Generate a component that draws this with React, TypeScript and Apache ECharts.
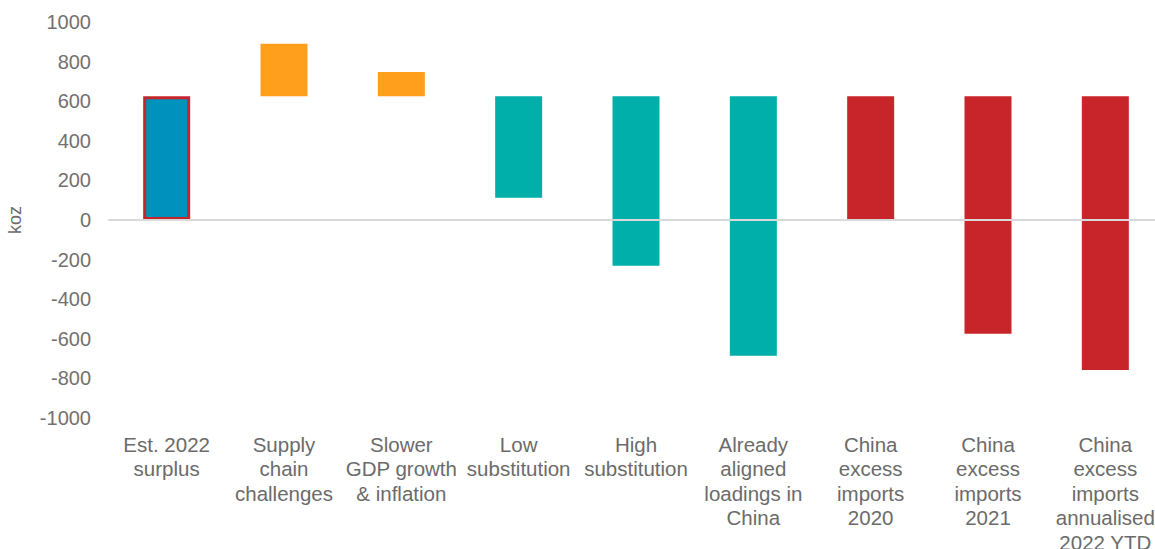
import React, { useEffect, useRef } from "react";
import * as echarts from "echarts";

const categories = [
  "Est. 2022\nsurplus",
  "Supply\nchain\nchallenges",
  "Slower\nGDP growth\n& inflation",
  "Low\nsubstitution",
  "High\nsubstitution",
  "Already\naligned\nloadings in\nChina",
  "China\nexcess\nimports\n2020",
  "China\nexcess\nimports\n2021",
  "China\nexcess\nimports\nannualised\n2022 YTD",
];
const barBottom = [0, 625, 625, 112, -231, -686, 0, -575, -757];
const barTop = [625, 890, 748, 625, 625, 625, 625, 625, 625];
const barColors = [
  "#0091BD",
  "#FF9F1C",
  "#FF9F1C",
  "#00AFA9",
  "#00AFA9",
  "#00AFA9",
  "#C8252A",
  "#C8252A",
  "#C8252A",
];

export default function App() {
  const ref = useRef<HTMLDivElement>(null);
  useEffect(() => {
    if (!ref.current) return;
    const chart = echarts.init(ref.current, null, { renderer: "svg" });
    const data = categories.map((_, i) => [i, barBottom[i], barTop[i]]);
    chart.setOption({
      animation: false,
      grid: {
        left: 108,
        right: -9,
        top: 22,
        bottom: 131,
        containLabel: false,
        outerBoundsMode: "none",
      },
      xAxis: {
        type: "category",
        data: categories,
        axisLine: { show: false, onZero: false },
        axisTick: { show: false },
        axisLabel: {
          interval: 0,
          fontFamily: "Liberation Sans, Arial, sans-serif",
          fontSize: 20.5,
          lineHeight: 24.5,
          color: "#6b6b6b",
          margin: 14,
          hideOverlap: false,
        },
      },
      yAxis: {
        type: "value",
        min: -1000,
        max: 1000,
        interval: 200,
        name: "koz",
        nameLocation: "middle",
        nameRotate: 90,
        nameGap: 84,
        nameTextStyle: {
          fontFamily: "Liberation Sans, Arial, sans-serif",
          fontSize: 18,
          color: "#6b6b6b",
        },
        axisLine: { show: false },
        axisTick: { show: false },
        splitLine: { show: false },
        axisLabel: {
          fontFamily: "Liberation Sans, Arial, sans-serif",
          fontSize: 20,
          color: "#737070",
          margin: 17,
          formatter: (v: number) => String(v),
        },
      },
      series: [
        {
          type: "custom",
          encode: { x: 0, y: [1, 2] },
          data,
          renderItem: (params: any, api: any) => {
            const idx = api.value(0);
            const lo = api.value(1);
            const hi = api.value(2);
            const p1 = api.coord([idx, hi]);
            const p2 = api.coord([idx, lo]);
            const w = 47;
            if (idx === 0) {
              return {
                type: "rect",
                shape: {
                  x: p1[0] - w / 2 + 1.5,
                  y: p1[1] + 1.5,
                  width: w - 3,
                  height: p2[1] - p1[1] - 3,
                },
                style: { fill: barColors[idx], stroke: "#C8252A", lineWidth: 3 },
              };
            }
            return {
              type: "rect",
              shape: { x: p1[0] - w / 2, y: p1[1], width: w, height: p2[1] - p1[1] },
              style: { fill: barColors[idx] },
            };
          },
          markLine: {
            silent: true,
            symbol: "none",
            label: { show: false },
            lineStyle: { color: "#d9d9d9", width: 2, type: "solid" },
            data: [{ yAxis: 0 }],
          },
        },
      ],
    });
    return () => chart.dispose();
  }, []);
  return (
    <div
      ref={ref}
      style={{ position: "absolute", left: 0, top: 0, width: 1155, height: 549 }}
    />
  );
}
